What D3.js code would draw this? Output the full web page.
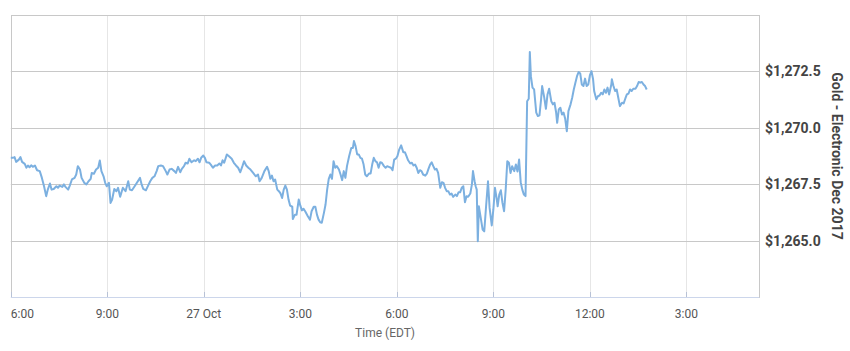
<!DOCTYPE html>
<html><head><meta charset="utf-8">
<script src="https://cdn.jsdelivr.net/npm/d3@7"></script>
<style>
body{margin:0;background:#fff}
text{font-family:Roboto,"Open Sans",Arial,sans-serif}
</style>
</head><body>
<svg id="chart" width="850" height="351"></svg>
<script>
// Series start: 26 Oct 2017, 18:00 EDT; offsets in minutes from start
const startTime = new Date(2017, 9, 26, 18, 0);
const endTime = new Date(2017, 9, 27, 17, 16);
const minutes = [0,4,7,10,15,18,21,26,29,32,35,38,41,45,49,54,58,62,66,69,73,76,80,85,88,91,96,99,102,107,110,114,119,122,125,129,132,137,141,145,149,151,155,159,163,166,169,173,176,179,183,186,189,193,197,200,204,209,214,219,222,226,231,241,244,247,252,255,260,264,268,272,275,280,284,289,292,296,300,305,308,312,316,319,323,326,330,333,337,342,345,349,352,355,359,362,365,370,373,377,381,385,389,392,395,398,403,407,412,416,420,424,428,432,435,439,443,447,452,457,461,464,468,473,478,481,484,487,490,493,497,500,503,506,509,512,515,518,521,525,526,530,533,537,540,543,546,549,554,558,561,565,568,571,574,577,580,584,587,590,593,596,599,602,605,608,612,615,618,621,624,627,631,635,638,640,643,646,649,652,655,658,661,664,668,671,674,677,680,683,686,689,692,696,699,702,705,709,712,715,718,721,724,728,732,735,738,741,745,748,751,754,757,760,763,766,769,773,776,779,782,785,788,791,794,797,801,804,807,810,813,816,819,822,825,829,832,835,838,841,844,847,850,853,857,860,862,865,867,869,871,873,877,880,883,886,890,893,897,900,903,906,908,911,914,917,920,923,926,929,932,935,939,942,945,948,951,954,957,960,963,966,968,970,973,976,980,983,986,989,991,995,998,1001,1004,1008,1011,1014,1017,1019,1022,1025,1028,1031,1034,1037,1040,1044,1047,1050,1053,1056,1059,1062,1065,1068,1071,1074,1077,1080,1083,1086,1088,1092,1095,1098,1101,1104,1107,1110,1113,1116,1120,1121,1124,1127,1130,1133,1136,1140,1143,1146,1149,1152,1155,1158,1161,1165,1168,1171,1174,1177,1180,1183,1186];
const prices = [1268.67,1268.67,1268.70,1268.49,1268.59,1268.70,1268.49,1268.40,1268.23,1268.33,1268.25,1268.34,1268.27,1268.33,1268.12,1268.08,1267.78,1267.41,1266.97,1267.26,1267.53,1267.26,1267.29,1267.41,1267.34,1267.44,1267.38,1267.49,1267.38,1267.26,1267.44,1267.71,1267.78,1267.93,1268.30,1268.15,1267.78,1267.56,1267.49,1267.63,1267.74,1268.00,1267.96,1268.15,1268.23,1268.55,1268.08,1267.85,1267.56,1267.41,1267.56,1266.67,1266.82,1267.29,1267.19,1267.34,1266.94,1267.34,1267.19,1267.63,1267.26,1267.23,1267.41,1267.78,1267.49,1267.29,1267.23,1267.38,1267.63,1267.78,1267.85,1268.08,1268.30,1268.33,1268.30,1268.08,1267.93,1268.15,1268.18,1268.08,1268.00,1268.27,1268.03,1268.18,1268.30,1268.45,1268.42,1268.63,1268.47,1268.56,1268.52,1268.63,1268.47,1268.67,1268.77,1268.67,1268.47,1268.45,1268.37,1268.23,1268.33,1268.33,1268.42,1268.33,1268.56,1268.45,1268.82,1268.74,1268.63,1268.45,1268.33,1268.23,1268.03,1268.30,1268.52,1268.33,1268.23,1268.15,1268.00,1267.85,1267.93,1267.63,1267.78,1268.08,1268.27,1268.08,1267.74,1267.88,1267.63,1267.71,1267.26,1267.19,1267.09,1266.89,1267.26,1267.44,1267.26,1266.82,1266.55,1266.50,1265.96,1266.15,1266.15,1266.82,1266.55,1266.34,1266.41,1266.30,1266.08,1265.93,1266.30,1266.50,1266.50,1266.15,1265.93,1265.81,1265.79,1266.23,1266.60,1267.26,1267.74,1267.93,1267.74,1268.52,1268.23,1268.30,1268.15,1267.93,1267.68,1268.08,1267.78,1268.30,1268.74,1269.11,1269.11,1269.41,1269.19,1268.82,1268.82,1268.67,1268.63,1268.37,1267.93,1267.85,1267.97,1267.97,1268.37,1268.67,1268.52,1268.47,1268.23,1268.47,1268.45,1268.30,1268.23,1268.30,1268.27,1268.23,1268.12,1268.59,1268.63,1268.74,1269.01,1269.22,1268.92,1268.92,1268.74,1268.56,1268.42,1268.45,1268.33,1268.37,1268.23,1268.00,1268.12,1268.08,1267.93,1267.88,1267.97,1268.18,1268.37,1268.47,1268.30,1268.15,1268.18,1268.00,1267.34,1267.59,1267.56,1267.34,1267.19,1267.19,1267.04,1267.09,1266.94,1267.04,1266.97,1267.14,1267.14,1267.34,1267.41,1266.70,1266.97,1266.94,1267.09,1267.49,1268.08,1267.63,1267.41,1267.26,1264.97,1266.52,1265.93,1265.49,1265.41,1266.38,1267.63,1266.45,1265.67,1266.38,1267.34,1266.89,1266.52,1267.04,1267.23,1266.67,1266.30,1267.26,1268.52,1268.45,1268.00,1268.30,1268.08,1268.37,1268.06,1268.59,1267.59,1267.26,1267.04,1266.97,1271.18,1271.29,1273.36,1272.29,1271.78,1271.70,1270.67,1270.52,1270.55,1271.26,1271.85,1271.33,1270.84,1271.48,1271.73,1271.18,1271.04,1271.11,1270.69,1270.22,1270.81,1270.89,1270.59,1270.67,1270.40,1269.85,1270.74,1271.04,1271.33,1271.70,1272.00,1272.29,1272.47,1272.41,1271.92,1271.85,1272.18,1271.85,1271.92,1272.32,1272.51,1272.15,1271.63,1271.26,1271.40,1271.43,1271.55,1271.48,1271.70,1271.55,1271.78,1271.48,1271.92,1272.15,1271.85,1271.63,1271.70,1271.33,1270.96,1271.11,1271.08,1271.29,1271.48,1271.52,1271.70,1271.63,1271.73,1271.73,1271.85,1272.03,1272.00,1272.03,1271.92,1271.85,1271.70];
const yTicks = [1265, 1267.5, 1270, 1272.5];
const yDomain = [1262.5, 1275];
const seriesName = "Gold - Electronic Dec 2017";
const xTitle = "Time (EDT)";

const data = minutes.map((m, i) => ({t: d3.timeMinute.offset(startTime, m), v: prices[i]}));

const plot = {left: 10.8, right: 759.3, top: 15, bottom: 297};
const svg = d3.select("#chart");

const x = d3.scaleTime().domain([startTime, endTime]).range([plot.left, plot.right]);
const y = d3.scaleLinear().domain(yDomain).range([plot.bottom, plot.top]);

const xTicks = x.ticks(d3.timeHour.every(3));
const fmtX = d => d.getHours() === 0 ? d3.timeFormat("%-d %b")(d) : ((d.getHours() % 12) || 12) + ":00";

// vertical gridlines
svg.append("g").selectAll("line").data(xTicks).join("line")
  .attr("x1", d => Math.round(x(d)) + 0.5).attr("x2", d => Math.round(x(d)) + 0.5)
  .attr("y1", plot.top).attr("y2", plot.bottom)
  .attr("stroke", "#e6e6e6").attr("stroke-width", 1);

// horizontal gridlines
svg.append("g").selectAll("line").data(yTicks).join("line")
  .attr("x1", plot.left).attr("x2", plot.right)
  .attr("y1", d => Math.round(y(d)) + 0.5).attr("y2", d => Math.round(y(d)) + 0.5)
  .attr("stroke", "#c8c8c8").attr("stroke-width", 1);

// plot border
svg.append("rect")
  .attr("x", Math.round(plot.left) + 0.5).attr("y", plot.top + 0.5)
  .attr("width", Math.round(plot.right) - Math.round(plot.left))
  .attr("height", plot.bottom - plot.top)
  .attr("fill", "none").attr("stroke", "#c8c8c8").attr("stroke-width", 1);

// x axis line & ticks
svg.append("line")
  .attr("x1", plot.left).attr("x2", plot.right)
  .attr("y1", plot.bottom + 0.5).attr("y2", plot.bottom + 0.5)
  .attr("stroke", "#ccd6eb");
svg.append("g").selectAll("line").data(xTicks).join("line")
  .attr("x1", d => Math.round(x(d)) + 0.5).attr("x2", d => Math.round(x(d)) + 0.5)
  .attr("y1", plot.bottom - 5).attr("y2", plot.bottom)
  .attr("stroke", "#b8c2d6");

// x labels
svg.append("g").selectAll("text").data(xTicks).join("text")
  .attr("x", (d, i) => i === 0 ? plot.left : x(d))
  .attr("y", 318)
  .attr("text-anchor", (d, i) => i === 0 ? "start" : "middle")
  .attr("font-size", 12).attr("fill", "#555")
  .text(fmtX);

svg.append("text")
  .attr("x", (plot.left + plot.right) / 2).attr("y", 337)
  .attr("text-anchor", "middle").attr("font-size", 12).attr("fill", "#666")
  .text(xTitle);

// y labels (right)
const fmtY = d3.format("$,.1f");
svg.append("g").selectAll("text").data(yTicks).join("text")
  .attr("x", 765).attr("y", d => y(d)).attr("dy", "0.35em")
  .attr("font-size", 14).attr("font-weight", "bold").attr("fill", "#444")
  .text(fmtY);

svg.append("text")
  .attr("transform", `translate(837,${(plot.top + plot.bottom) / 2}) rotate(90)`)
  .attr("text-anchor", "middle").attr("dy", "0.35em")
  .attr("font-size", 14).attr("font-weight", "bold").attr("fill", "#444")
  .text(seriesName);

// line
const line = d3.line().x(d => x(d.t)).y(d => y(d.v));
svg.append("path").datum(data)
  .attr("d", line).attr("fill", "none")
  .attr("stroke", "#7cb0e0").attr("stroke-width", 2).attr("stroke-linejoin", "round");
</script>
</body></html>
